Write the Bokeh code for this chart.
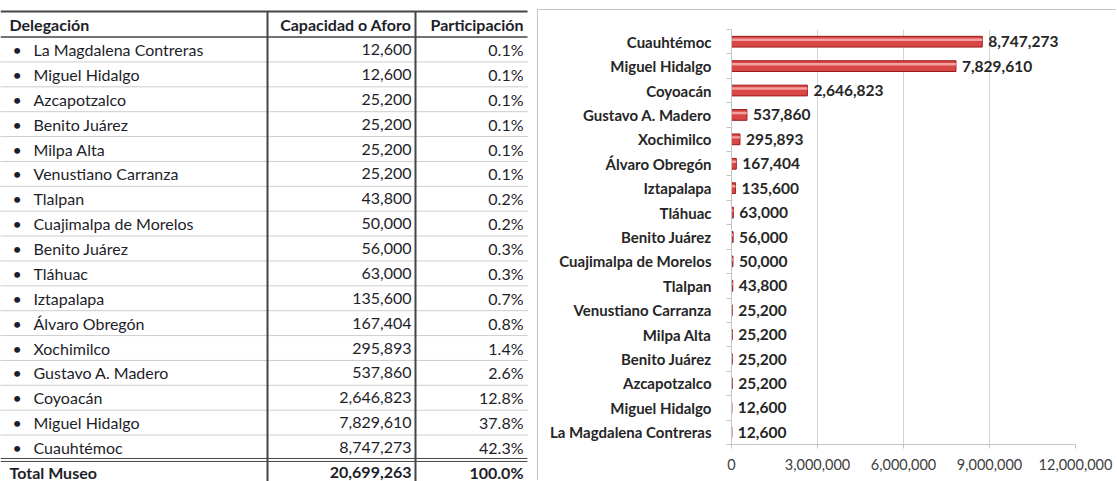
from bokeh.plotting import figure
from bokeh.layouts import row, column
from bokeh.models import Range1d, FixedTicker, NumeralTickFormatter, ColumnDataSource
from bokeh.transform import dodge
from bokeh.core.properties import value
from bokeh.embed import file_html
from bokeh.resources import INLINE

# ---------------- data ----------------
delegaciones = [
    "La Magdalena Contreras", "Miguel Hidalgo", "Azcapotzalco", "Benito Juárez",
    "Milpa Alta", "Venustiano Carranza", "Tlalpan", "Cuajimalpa de Morelos",
    "Benito Juárez", "Tláhuac", "Iztapalapa", "Álvaro Obregón", "Xochimilco",
    "Gustavo A. Madero", "Coyoacán", "Miguel Hidalgo", "Cuauhtémoc",
]
capacidad = [12600, 12600, 25200, 25200, 25200, 25200, 43800, 50000, 56000,
             63000, 135600, 167404, 295893, 537860, 2646823, 7829610, 8747273]
participacion = [0.1, 0.1, 0.1, 0.1, 0.1, 0.1, 0.2, 0.2, 0.3, 0.3, 0.7, 0.8,
                 1.4, 2.6, 12.8, 37.8, 42.3]
encabezados = ["Delegación", "Capacidad o Aforo", "Participación"]
total_label = "Total Museo"
total_capacidad = 20699263
total_participacion = 100.0
x_ticks = [0, 3000000, 6000000, 9000000, 12000000]

FONT = "Lato"
TW, H = 537, 481
CW = 1117 - TW - 1
CTOP = 9
TXT = "#1e1e2a"

# ---------------- table ----------------
t = figure(width=TW, height=H, x_range=Range1d(0, TW), y_range=Range1d(H, 0),
           output_backend="svg", toolbar_location=None, min_border=0,
           x_axis_type=None, y_axis_type=None, title=None)
t.grid.visible = False
t.outline_line_color = None
t.background_fill_color = "white"

n = len(delegaciones)
S = 24.875
row0 = 49.0
header_y = 24.0
top_line = 11.0
col1, col2, right = 267.0, 415.0, 527.0
rows_y = [row0 + i * S for i in range(n)]
total_y = row0 + n * S

hdr_kw = dict(text_font=value(FONT), text_font_style="bold", text_font_size="16px",
              text_color=TXT, text_baseline="middle")
t.text(x=[9], y=[header_y], text=[encabezados[0]], text_align="left", **hdr_kw)
t.text(x=[col2 - 4], y=[header_y], text=[encabezados[1]], text_align="right", **hdr_kw)
t.text(x=[right - 4], y=[header_y], text=[encabezados[2]], text_align="right", **hdr_kw)

body_kw = dict(text_font=value(FONT), text_font_size="16px", text_color=TXT,
               text_baseline="middle")
t.text(x=[12] * n, y=rows_y, text=["•"] * n, text_align="left", **body_kw)
t.text(x=[33] * n, y=rows_y, text=delegaciones, text_align="left", **body_kw)
t.text(x=[col2 - 4] * n, y=rows_y, text=[f"{v:,}" for v in capacidad],
       text_align="right", **body_kw)
t.text(x=[right - 4] * n, y=rows_y, text=[f"{p:.1f}%" for p in participacion],
       text_align="right", **body_kw)

t.text(x=[9], y=[total_y], text=[total_label], text_align="left", **hdr_kw)
t.text(x=[col2 - 4], y=[total_y], text=[f"{total_capacidad:,}"], text_align="right", **hdr_kw)
t.text(x=[right - 4], y=[total_y], text=[f"{total_participacion:.1f}%"], text_align="right", **hdr_kw)

LC = "#454545"
t.segment(x0=[0], y0=[top_line], x1=[right], y1=[top_line], line_color=LC, line_width=2)
t.segment(x0=[0], y0=[row0 - S / 2], x1=[right], y1=[row0 - S / 2], line_color=LC, line_width=1.5)
dots_y = [y + S / 2 for y in rows_y[:-1]]
t.segment(x0=[0] * len(dots_y), y0=dots_y, x1=[right] * len(dots_y), y1=dots_y,
          line_color="#9a9a9a", line_width=1, line_dash="1 1")
dbl = rows_y[-1] + S / 2
t.segment(x0=[0, 0], y0=[dbl - 1.5, dbl + 1.5], x1=[right, right], y1=[dbl - 1.5, dbl + 1.5],
          line_color=LC, line_width=1)
t.segment(x0=[col1, col2], y0=[top_line, top_line], x1=[col1, col2], y1=[H, H],
          line_color=LC, line_width=2)

# ---------------- chart ----------------
pos = list(range(1, n + 1))
src = ColumnDataSource(dict(y=pos, v=capacidad, label=[f"{v:,}" for v in capacidad]))

c = figure(width=CW, height=H - CTOP - 1, x_range=Range1d(0, x_ticks[-1]), y_range=Range1d(0.5, n + 0.5),
           output_backend="svg", toolbar_location=None, title=None,
           min_border_left=193, min_border_right=42, min_border_top=19, min_border_bottom=37)
c.styles = {"border-left": "1px solid #c4c4c4", "border-top": "1px solid #c4c4c4",
            "margin-top": f"{CTOP}px"}
c.outline_line_color = None
c.ygrid.visible = False
c.xgrid.ticker = FixedTicker(ticks=x_ticks)
c.xgrid.grid_line_color = "#d4d4d4"

c.hbar(y="y", left=0, right="v", height=0.44, source=src,
       fill_color="#d84646", line_color="#9c1c1c", line_width=1)
c.hbar(y=dodge("y", 0.08), left=0, right="v", height=0.1, source=src,
       fill_color="#f2a0a0", line_color=None)
c.text(x="v", y="y", text="label", source=src, x_offset=6, text_baseline="middle",
       text_align="left", text_font=value(FONT), text_font_style="bold",
       text_font_size="15.5px", text_color="#262626")

c.xaxis.ticker = FixedTicker(ticks=x_ticks)
c.xaxis.formatter = NumeralTickFormatter(format="0,0")
c.xaxis.axis_line_color = "#c4c4c4"
c.xaxis.major_tick_line_color = "#c4c4c4"
c.xaxis.major_tick_out = 4
c.xaxis.major_tick_in = 0
c.xaxis.minor_tick_line_color = None
c.xaxis.major_label_text_font = FONT
c.xaxis.major_label_text_font_size = "14.5px"
c.xaxis.major_label_text_color = "#404040"
c.xaxis.major_label_standoff = 10

c.yaxis.ticker = FixedTicker(ticks=pos, minor_ticks=[p - 0.5 for p in pos] + [n + 0.5])
c.yaxis.major_label_overrides = {p: name for p, name in zip(pos, delegaciones)}
c.yaxis.axis_line_color = "#c4c4c4"
c.yaxis.major_tick_line_color = None
c.yaxis.major_tick_out = 0
c.yaxis.major_tick_in = 0
c.yaxis.minor_tick_line_color = "#c4c4c4"
c.yaxis.minor_tick_out = 5
c.yaxis.minor_tick_in = 0
c.yaxis.major_label_text_font = FONT
c.yaxis.major_label_text_font_style = "bold"
c.yaxis.major_label_text_font_size = "15px"
c.yaxis.major_label_text_color = "#262626"
c.yaxis.major_label_standoff = 15

layout = row(column(t), column(c), spacing=0)
open("out.html", "w").write(file_html(layout, INLINE))
